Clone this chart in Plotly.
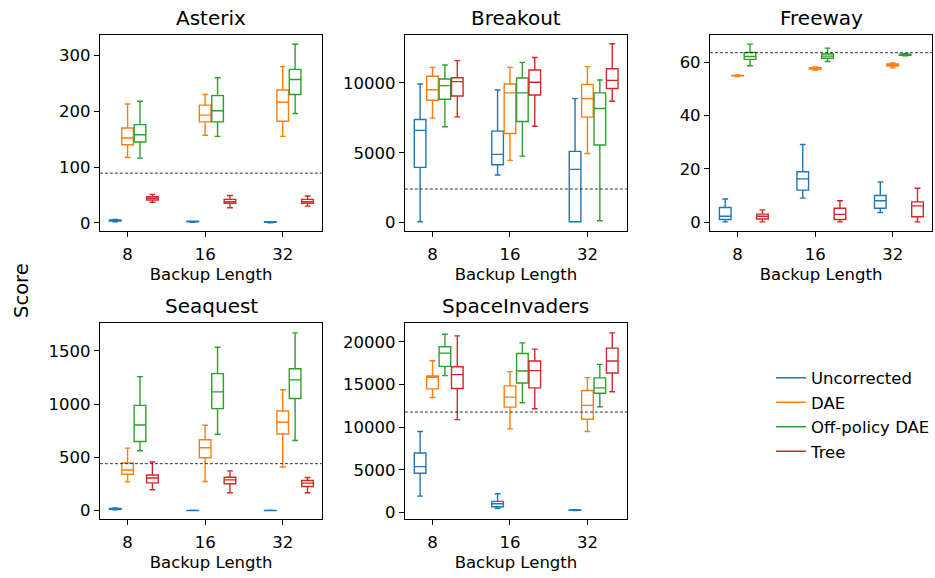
import plotly.graph_objects as go

# ---- data: (lower whisker, q1, median, q3, upper whisker) per backup length ----
BACKUP_LENGTHS = ["8", "16", "32"]
SERIES = ["Uncorrected", "DAE", "Off-policy DAE", "Tree"]
COLORS = ["#1f77b4", "#ff7f0e", "#2ca02c", "#d62728"]

ASTERIX = {
    "Uncorrected": [(2, 3, 4, 5, 6), (1, 2, 2, 3, 3), (0, 1, 1, 2, 2)],
    "DAE": [(117, 140, 152, 170, 213), (157, 181, 193, 211, 230), (155, 182, 216, 238, 280)],
    "Off-policy DAE": [(116, 145, 158, 176, 218), (155, 181, 201, 228, 260), (196, 230, 257, 275, 320)],
    "Tree": [(37, 41, 44, 47, 51), (27, 35, 38, 42, 49), (30, 35, 38, 42, 48)],
}
BREAKOUT = {
    "Uncorrected": [(50, 3950, 6600, 7380, 9930), (3400, 4140, 4880, 6550, 9500), (50, 50, 3810, 5100, 8880)],
    "DAE": [(7480, 8760, 9520, 10480, 11120), (4450, 6380, 9290, 9930, 11120), (4950, 7550, 8880, 9900, 11170)],
    "Off-policy DAE": [(6860, 8830, 9810, 10290, 11290), (4760, 7240, 9290, 10360, 11480), (120, 5550, 8170, 9290, 10210)],
    "Tree": [(7570, 9070, 10100, 10380, 11600), (6900, 9140, 10050, 10930, 11830), (8690, 9600, 10190, 11020, 12810)],
}
FREEWAY = {
    "Uncorrected": [(0.1, 1.0, 2.2, 5.5, 8.7), (9.0, 12.0, 16.2, 18.9, 29.1), (3.6, 5.2, 8.0, 10.0, 15.1)],
    "DAE": [(54.6, 54.8, 54.9, 55.0, 55.2), (57.0, 57.4, 57.6, 57.9, 58.2), (57.8, 58.5, 59.0, 59.3, 59.7)],
    "Off-policy DAE": [(58.6, 61.0, 62.1, 63.6, 66.7), (60.2, 61.4, 62.2, 63.0, 65.2), (62.3, 62.5, 62.7, 62.9, 63.1)],
    "Tree": [(0.1, 1.2, 2.2, 3.0, 4.6), (0.1, 1.0, 2.9, 5.2, 8.0), (0.1, 2.0, 6.1, 7.6, 12.7)],
}
SEAQUEST = {
    "Uncorrected": [(8, 12, 16, 20, 25), (0, 1, 2, 3, 5), (0, 1, 2, 3, 5)],
    "DAE": [(270, 342, 382, 447, 587), (273, 497, 590, 665, 801), (410, 720, 829, 935, 1134)],
    "Off-policy DAE": [(562, 649, 804, 988, 1258), (717, 957, 1115, 1286, 1534), (658, 1053, 1227, 1332, 1668)],
    "Tree": [(196, 261, 307, 335, 457), (168, 252, 289, 314, 373), (168, 227, 258, 283, 311)],
}
SPACEINVADERS = {
    "Uncorrected": [(1940, 4610, 5390, 6980, 9500), (500, 700, 1050, 1320, 2210), (250, 280, 310, 330, 350)],
    "DAE": [(13490, 14500, 15850, 16010, 17790), (9810, 12360, 13530, 14850, 16510), (9500, 10930, 12560, 14300, 15810)],
    "Off-policy DAE": [(16050, 17130, 18680, 19420, 20890), (12870, 15190, 16590, 18640, 19880), (12400, 13990, 14610, 15780, 17360)],
    "Tree": [(10890, 14540, 16160, 17090, 20700), (12170, 14610, 16630, 17750, 19150), (14150, 16360, 17750, 19260, 21050)],
}
BASELINES = {"Asterix": 89, "Breakout": 2400, "Freeway": 63.5, "Seaquest": 441, "SpaceInvaders": 11780}

GAMES = [
    ("Asterix", ASTERIX, [-14.3, 337], [0, 100, 200, 300]),
    ("Breakout", BREAKOUT, [-595, 13452], [0, 5000, 10000]),
    ("Freeway", FREEWAY, [-3.24, 70.2], [0, 20, 40, 60]),
    ("Seaquest", SEAQUEST, [-81, 1758], [0, 500, 1000, 1500]),
    ("SpaceInvaders", SPACEINVADERS, [-775, 22171], [0, 5000, 10000, 15000, 20000]),
]

# ---- layout geometry (pixels) ----
W, H = 935, 578
X_COLS = [(100, 322.7), (405.3, 627.7), (710.7, 933.3)]
Y_ROWS = [(35, 232), (325, 522)]
OFFSETS = [-0.16, 0.0, 0.16, 0.32]
BOX_W = 0.15
FONT = "DejaVu Sans"
TICK_SIZE = 16.5

fig = go.Figure()
shapes, annotations = [], []
layout = {}

for gi, (name, data, yr, yticks) in enumerate(GAMES):
    row, col = divmod(gi, 3)
    idx = "" if gi == 0 else str(gi + 1)
    xa, ya = "x" + idx, "y" + idx
    x0, x1 = X_COLS[col]
    t, b = Y_ROWS[row]
    for si, s in enumerate(SERIES):
        stats = data[s]
        fig.add_trace(go.Box(
            x=[g + OFFSETS[si] for g in range(len(BACKUP_LENGTHS))],
            lowerfence=[v[0] for v in stats],
            q1=[v[1] for v in stats],
            median=[v[2] for v in stats],
            q3=[v[3] for v in stats],
            upperfence=[v[4] for v in stats],
            width=BOX_W,
            whiskerwidth=0.5,
            line=dict(color=COLORS[si], width=1.4),
            fillcolor="rgba(255,255,255,0)",
            boxpoints=False,
            showlegend=False,
            name=s,
            xaxis=xa, yaxis=ya,
        ))
    axis_common = dict(
        showline=True, linecolor="black", linewidth=1, mirror=True,
        ticks="outside", ticklen=5, tickwidth=1, tickcolor="black",
        showgrid=False, zeroline=False,
        tickfont=dict(family=FONT, size=TICK_SIZE, color="black"),
    )
    layout["xaxis" + idx] = dict(
        axis_common, domain=[x0 / W, x1 / W], anchor=ya,
        range=[-0.357, 2.511], tickmode="array",
        tickvals=list(range(len(BACKUP_LENGTHS))), ticktext=BACKUP_LENGTHS,
        ticklabelstandoff=3,
        title=dict(text="Backup Length", font=dict(family=FONT, size=TICK_SIZE, color="black"), standoff=5),
    )
    layout["yaxis" + idx] = dict(
        axis_common, domain=[1 - b / H, 1 - t / H], anchor=xa,
        range=yr, tickmode="array", tickvals=yticks,
        ticktext=[str(v) for v in yticks],
    )
    shapes.append(dict(
        type="line", xref=xa + " domain", yref=ya, x0=0, x1=1,
        y0=BASELINES[name], y1=BASELINES[name],
        line=dict(color="black", width=0.8, dash="3px,2px"),
    ))
    annotations.append(dict(
        text=name, x=(x0 + x1) / 2 / W, y=1 - (t - 3) / H, xref="paper", yref="paper",
        xanchor="center", yanchor="bottom", showarrow=False,
        font=dict(family=FONT, size=20, color="black"),
    ))

annotations.append(dict(
    text="Score", x=21.5 / W, y=1 - 292 / H, xref="paper", yref="paper",
    textangle=-90, showarrow=False, xanchor="center", yanchor="middle",
    font=dict(family=FONT, size=19.5, color="black"),
))

for si, s in enumerate(SERIES):
    fig.add_trace(go.Scatter(
        x=[None], y=[None], mode="lines", name=s,
        line=dict(color=COLORS[si], width=1.5),
        legendgroup=s, showlegend=True,
    ))

fig.update_layout(
    width=W, height=H,
    margin=dict(l=0, r=0, t=0, b=0),
    paper_bgcolor="white", plot_bgcolor="white",
    shapes=shapes, annotations=annotations,
    legend=dict(
        x=772 / W, y=1 - 362.5 / H, xanchor="left", yanchor="top",
        font=dict(family=FONT, size=TICK_SIZE, color="black"),
        tracegroupgap=0, traceorder="grouped", bgcolor="rgba(0,0,0,0)",
    ),
    **layout,
)

fig.write_html("out.html")
